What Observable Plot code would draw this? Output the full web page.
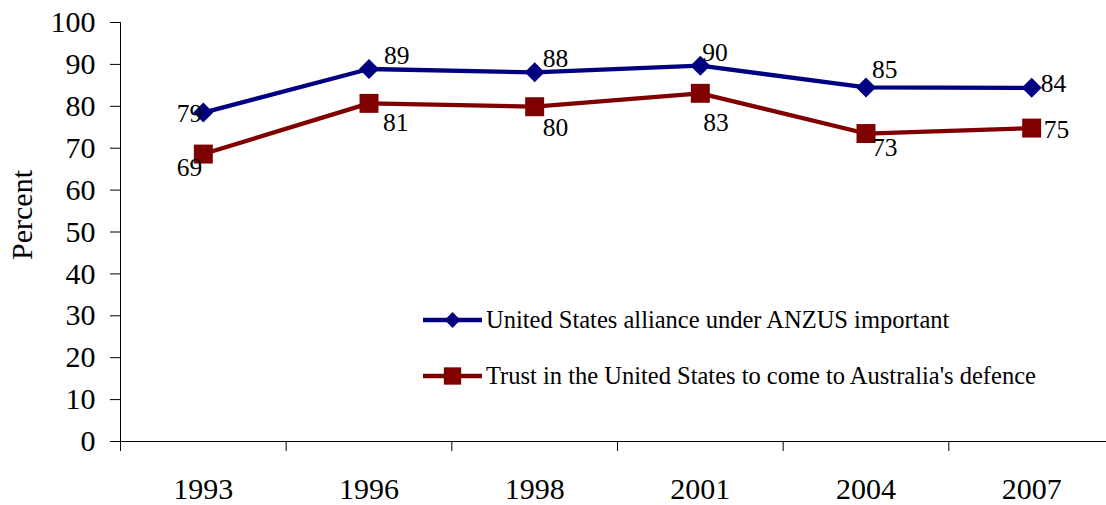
<!DOCTYPE html>
<html>
<head>
<meta charset="utf-8">
<script src="https://cdn.jsdelivr.net/npm/d3@7"></script>
<script src="https://cdn.jsdelivr.net/npm/@observablehq/plot@0.6"></script>
<style>
  html, body { margin: 0; padding: 0; background: #fff; overflow: hidden; }
  #chart { position: relative; width: 1106px; height: 505px; }
  svg { font-family: "Liberation Serif", "Times New Roman", serif; }
</style>
</head>
<body>
<div id="chart"></div>
<script>
// ---- data ----
const years = ["1993", "1996", "1998", "2001", "2004", "2007"];
const allianceValues = [78.5, 88.9, 88.1, 89.7, 84.5, 84.4];
const allianceLabels = ["79", "89", "88", "90", "85", "84"];
const trustValues = [68.6, 80.7, 79.9, 83.1, 73.5, 74.8];
const trustLabels = ["69", "81", "80", "83", "73", "75"];
const seriesNames = [
  "United States alliance under ANZUS important",
  "Trust in the United States to come to Australia's defence"
];
const yTicks = [0, 10, 20, 30, 40, 50, 60, 70, 80, 90, 100];

// ---- styles ----
const BLUE = "#000080";
const RED = "#800000";
const FONT = "Liberation Serif, Times New Roman, serif";
// label offsets [anchor, dx, dy] per point (style only)
const allianceLabelOffsets = [["end", -1, 1], ["start", 15, -13], ["start", 8, -14], ["start", 2, -13], ["start", 6, -18], ["start", 9, -4]];
const trustLabelOffsets = [["end", -1, 14], ["start", 14, 19], ["start", 8, 21], ["start", 3, 30], ["start", 6, 14], ["start", 12, 2]];

const alliance = years.map((y, i) => ({i: i + 0.5, year: y, value: allianceValues[i], label: allianceLabels[i]}));
const trust = years.map((y, i) => ({i: i + 0.5, year: y, value: trustValues[i], label: trustLabels[i]}));

function labelMarks(data, offsets) {
  return data.map((d, k) => Plot.text([d], {
    x: "i", y: "value", text: "label",
    textAnchor: offsets[k][0], dx: offsets[k][1], dy: offsets[k][2],
    fontSize: 25.5, fill: "#000"
  }));
}

const bandTicks = d3.range(0, years.length + 1);
const centerTicks = years.map((_, i) => i + 0.5);

const plot = Plot.plot({
  width: 1106,
  height: 505,
  marginTop: 22,
  marginBottom: 64,
  marginLeft: 120,
  marginRight: 0,
  style: {fontFamily: FONT, color: "#000", background: "#fff"},
  x: {domain: [0, years.length], range: [120, 1114]},
  y: {domain: [0, 100]},
  marks: [
    Plot.axisY({ticks: yTicks, tickSize: 10, tickPadding: 15, fontSize: 30, label: null, stroke: "#000"}),
    Plot.axisX({ticks: bandTicks, tickSize: 10, tickFormat: () => "", label: null, stroke: "#000"}),
    Plot.axisX({ticks: centerTicks, tickSize: 0, tickPadding: 36, fontSize: 30, label: null,
      tickFormat: (t) => years[Math.round(t - 0.5)]}),
    Plot.ruleX([0], {stroke: "#000", strokeWidth: 1}),
    Plot.ruleY([0], {stroke: "#000", strokeWidth: 1}),
    Plot.text(["Percent"], {frameAnchor: "left", textAnchor: "middle", dx: -98, dy: -17, rotate: -90, fontSize: 30, fill: "#000"}),
    Plot.line(alliance, {x: "i", y: "value", stroke: BLUE, strokeWidth: 4.3}),
    Plot.line(trust, {x: "i", y: "value", stroke: RED, strokeWidth: 4.3}),
    Plot.dot(alliance, {x: "i", y: "value", symbol: "diamond2", r: 9, fill: BLUE, stroke: "none"}),
    Plot.dot(trust, {x: "i", y: "value", symbol: "square", r: 10.7, fill: RED, stroke: "none"}),
    ...labelMarks(alliance, allianceLabelOffsets),
    ...labelMarks(trust, trustLabelOffsets)
  ]
});

document.getElementById("chart").appendChild(plot);

// ---- legend (inside plot area) ----
const svg = d3.select(plot);
const legendItems = [
  {name: seriesNames[0], color: BLUE, symbol: d3.symbolDiamond2, size: 160},
  {name: seriesNames[1], color: RED, symbol: d3.symbolSquare, size: 300}
];
const lg = svg.append("g").attr("transform", "translate(423,320)");
legendItems.forEach((it, k) => {
  const g = lg.append("g").attr("transform", `translate(0,${k * 56})`);
  g.append("line").attr("x1", 0).attr("x2", 59).attr("y1", 0).attr("y2", 0)
    .attr("stroke", it.color).attr("stroke-width", 4.3);
  g.append("path").attr("d", d3.symbol(it.symbol, it.size)())
    .attr("transform", "translate(29.5,0)").attr("fill", it.color);
  g.append("text").attr("x", 63).attr("y", 0).attr("dy", "0.32em")
    .attr("text-anchor", "start")
    .attr("font-size", 24.5).attr("font-family", FONT).attr("fill", "#000")
    .text(it.name);
});
</script>
</body>
</html>
